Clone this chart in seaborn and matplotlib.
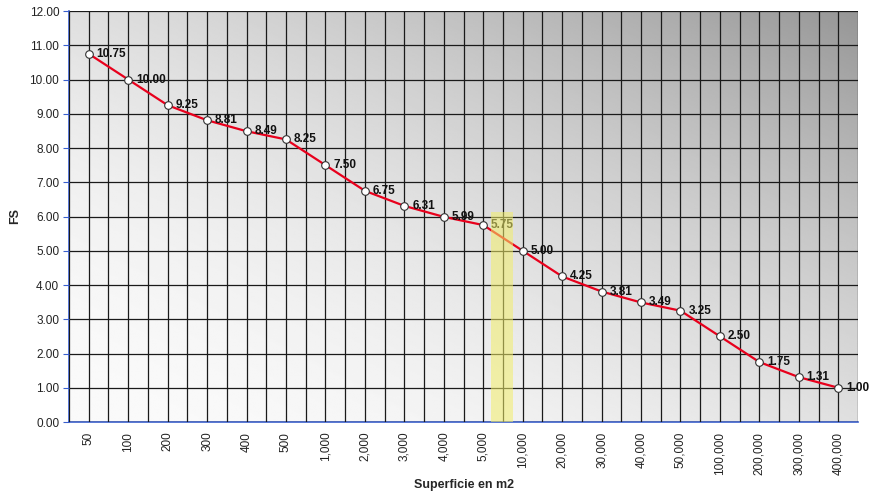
import numpy as np
import pandas as pd
import seaborn as sns
import matplotlib.pyplot as plt

surfaces = ['50', '100', '200', '300', '400', '500', '1,000', '2,000', '3,000', '4,000',
            '5,000', '10,000', '20,000', '30,000', '40,000', '50,000', '100,000',
            '200,000', '300,000', '400,000']
fs = [10.75, 10.00, 9.25, 8.81, 8.49, 8.25, 7.50, 6.75, 6.31, 5.99,
      5.75, 5.00, 4.25, 3.81, 3.49, 3.25, 2.50, 1.75, 1.31, 1.00]

df = pd.DataFrame({'Superficie': surfaces, 'FS': fs})

sns.set_style('white')
plt.rcParams['font.family'] = ['Liberation Sans', 'DejaVu Sans']

fig = plt.figure(figsize=(8.73, 4.98), dpi=100)
ax = fig.add_axes([69/873, 76/498, 789/873, 411/498])

n = len(surfaces)
# diagonal gradient background: white bottom-left -> grey top-right
gx, gy = np.meshgrid(np.linspace(0, 1, 300), np.linspace(0, 1, 300))
t = (gx + gy) / 2
shade = (250 - 100 * t ** 1.9) / 255
ax.imshow(shade, extent=[-0.5, n - 0.5, 0, 12], origin='lower', aspect='auto',
          cmap='gray', vmin=0, vmax=1, zorder=0)

sns.lineplot(data=df, x='Superficie', y='FS', sort=False, color='#e8001c', lw=1.6,
             marker='o', markersize=5.5, markerfacecolor='white', markeredgecolor='#333333',
             markeredgewidth=0.8, ax=ax, zorder=5)

for i, v in enumerate(fs):
    ax.text(i + 0.2, v, f'{v:.2f}', fontsize=8.5, fontweight='bold', va='center',
            ha='left', color='#111111', zorder=6)

# yellow highlight
ax.fill_between([10.2, 10.75], 0, 6.13, color='#f2ee6a', alpha=0.55, zorder=7, lw=0)

ax.set_xlim(-0.5, n - 0.5)
ax.set_ylim(0, 12)
ax.set_yticks(np.arange(0, 13, 1))
ax.set_yticklabels([f'{t:.2f}' for t in range(13)], fontsize=8.5, color='#222222')
ax.set_xticks(range(n))
ax.set_xticklabels(surfaces, rotation=90, fontsize=8.5, color='#222222')

ax.set_xticks(np.arange(-0.5, n, 1), minor=True)
ax.grid(True, which='both', axis='x', color='#1a1a1a', lw=0.9, zorder=1)
ax.grid(True, which='major', axis='y', color='#1a1a1a', lw=0.9, zorder=1)
ax.set_axisbelow(False)
for line in ax.get_xgridlines() + ax.get_ygridlines():
    line.set_zorder(1)

ax.tick_params(axis='x', which='major', length=0, pad=7)
ax.tick_params(axis='x', which='minor', length=4, color='#3a5fcd', direction='out')
ax.tick_params(axis='y', length=4, color='#3a5fcd', direction='out', left=True, pad=3)

for side in ['top', 'right']:
    ax.spines[side].set_visible(False)
ax.spines['left'].set_color('#3a5fcd')
ax.spines['bottom'].set_color('#3a5fcd')
ax.spines['left'].set_linewidth(1.2)
ax.spines['bottom'].set_linewidth(1.2)

ax.set_xlabel('Superficie en m2', fontsize=9, fontweight='bold', labelpad=3)
ax.set_ylabel('FS', fontsize=9, fontweight='bold', labelpad=6)

fig.savefig('out.png', dpi=100)
